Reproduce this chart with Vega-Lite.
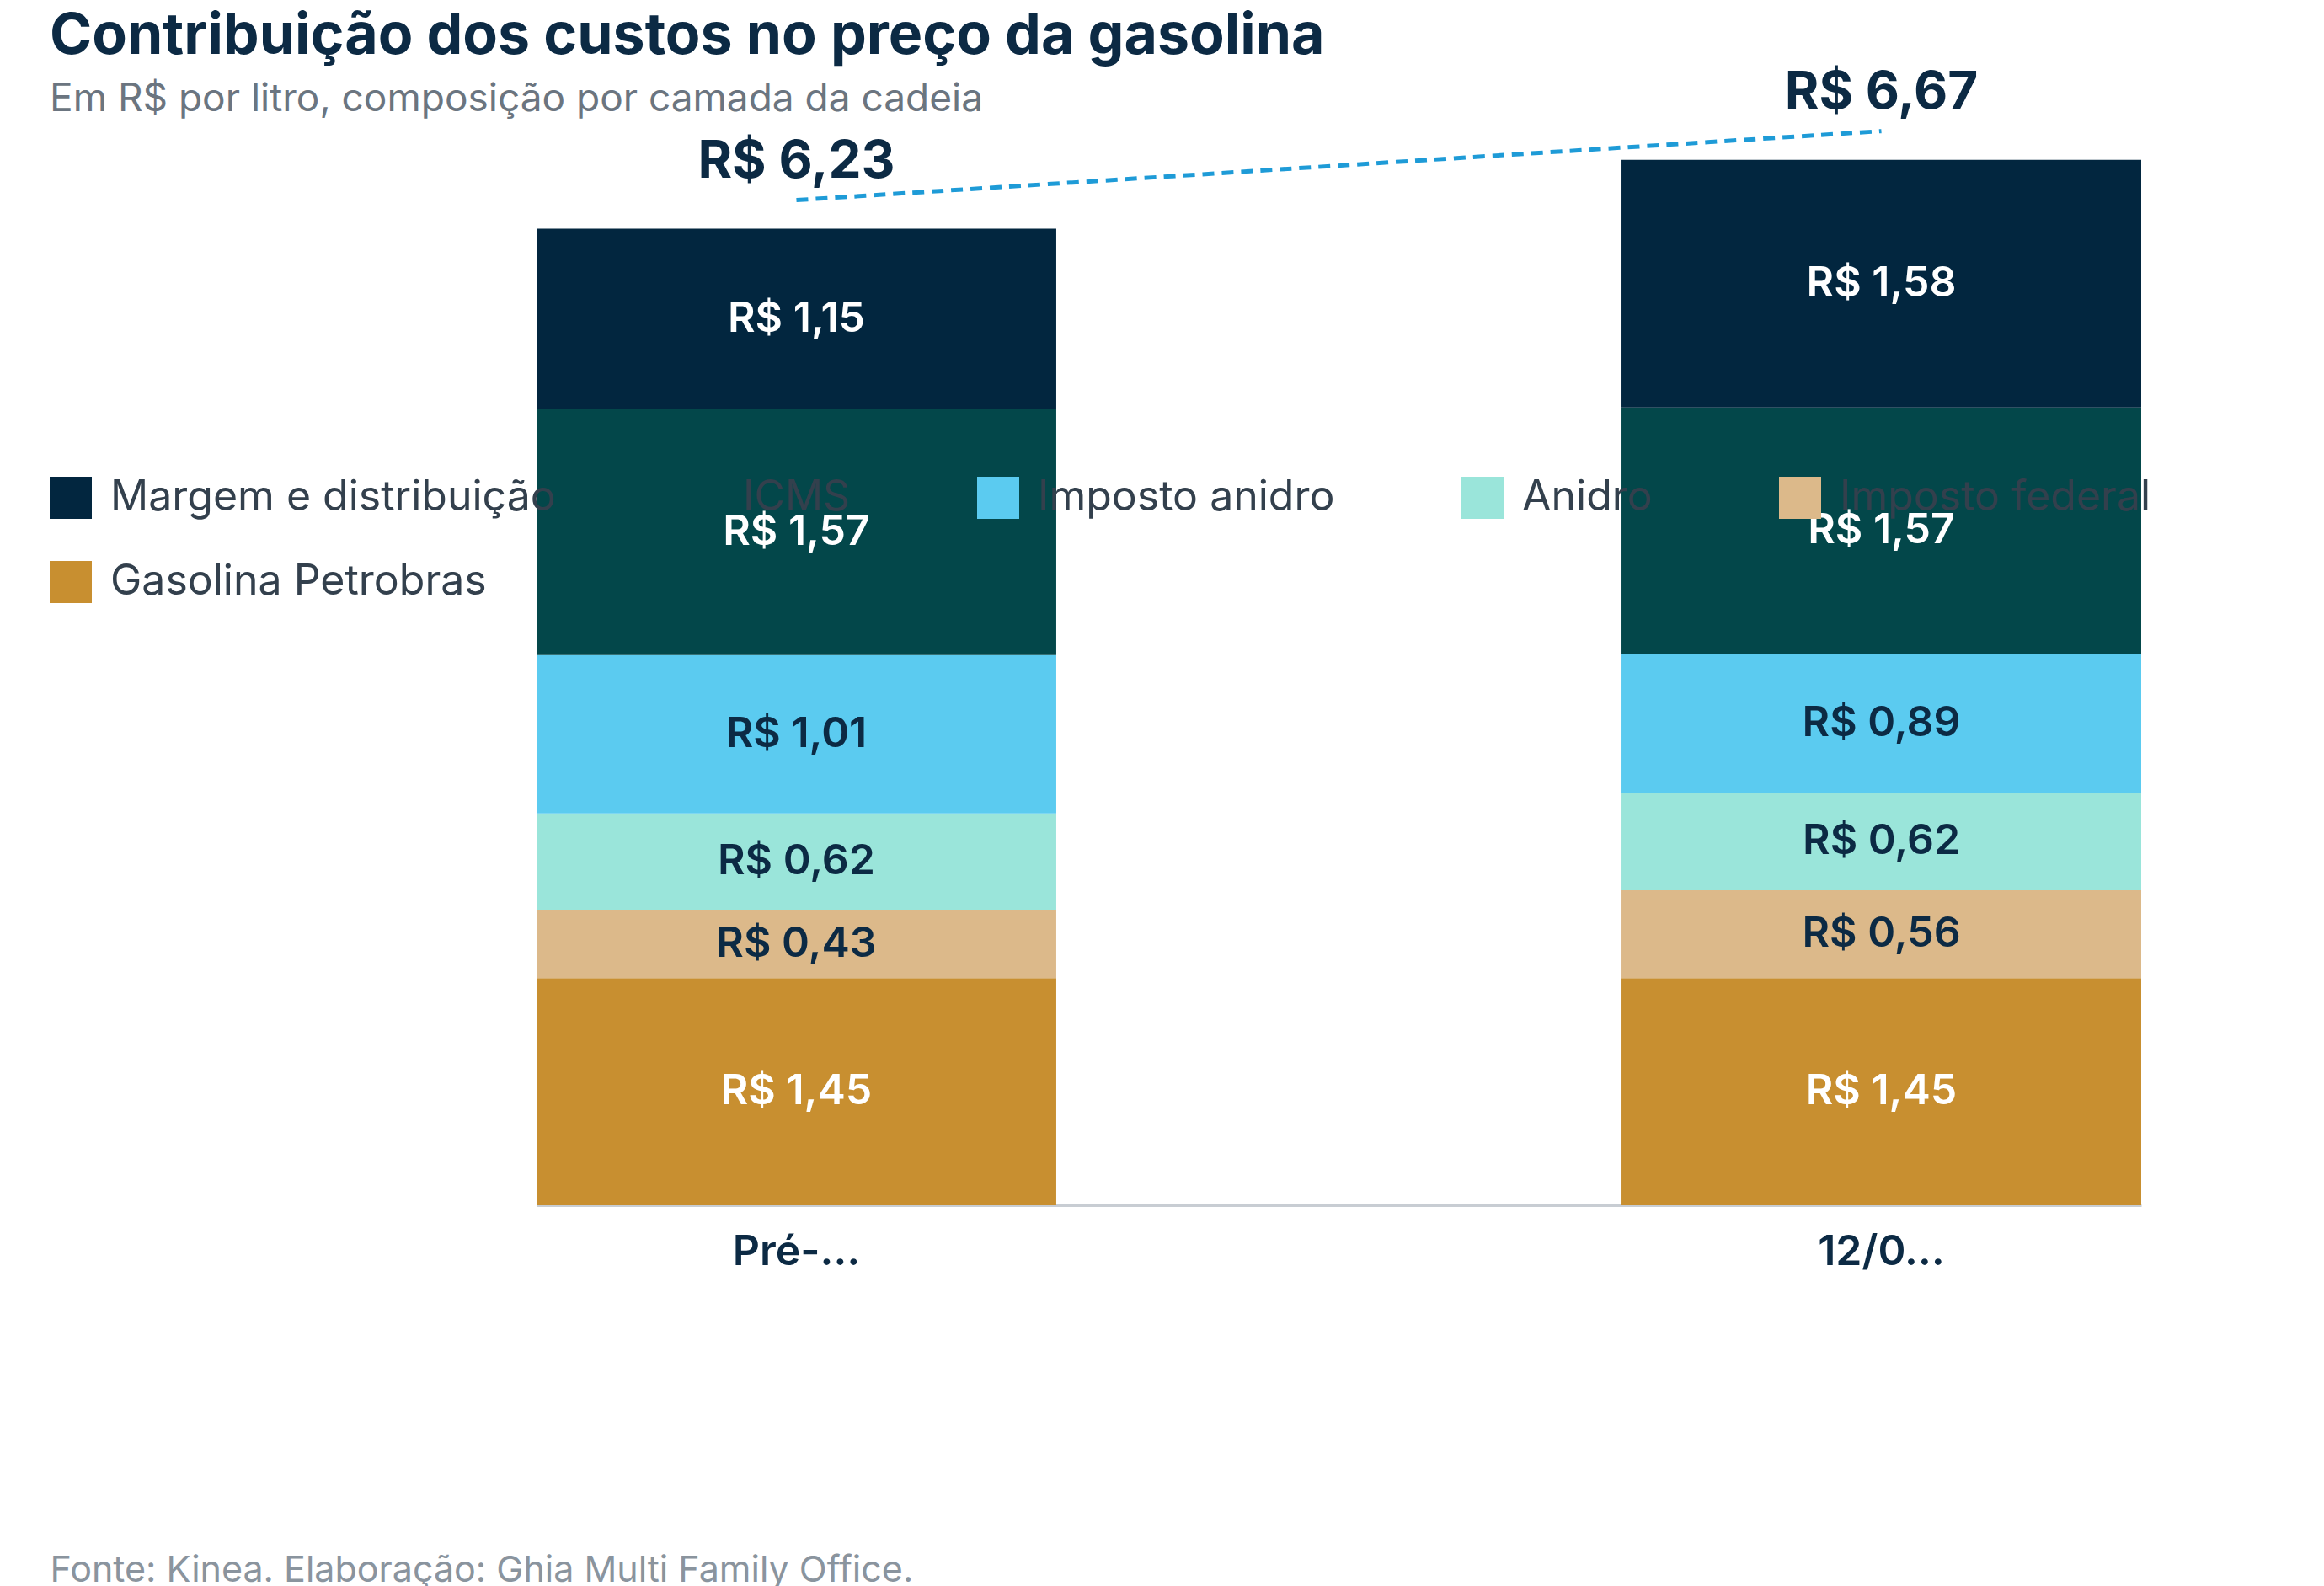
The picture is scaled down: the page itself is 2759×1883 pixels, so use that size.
{
  "$schema": "https://vega.github.io/schema/vega-lite/v6.json",
  "autosize": "none",
  "width": 1905,
  "height": 1340,
  "padding": {"left": 637, "top": 91, "right": 217, "bottom": 452},
  "background": "white",
  "config": {"font": "Inter", "view": {"stroke": null}},
  "title": {
    "text": "Contribuição dos custos no preço da gasolina",
    "subtitle": "Em R$ por litro, composição por camada da cadeia",
    "anchor": "start",
    "frame": "group",
    "dx": -578,
    "offset": -62,
    "fontSize": 68,
    "fontWeight": 700,
    "color": "#0C2A44",
    "subtitleFontSize": 46,
    "subtitleColor": "#6B7580",
    "subtitlePadding": 18
  },
  "datasets": {
    "custos": [
      {"periodo": "Pré-guerra", "componente": "Gasolina Petrobras", "valor": 1.45, "ordem": 1, "rotulo": "R$ 1,45"},
      {"periodo": "Pré-guerra", "componente": "Imposto federal", "valor": 0.43, "ordem": 2, "rotulo": "R$ 0,43"},
      {"periodo": "Pré-guerra", "componente": "Anidro", "valor": 0.62, "ordem": 3, "rotulo": "R$ 0,62"},
      {"periodo": "Pré-guerra", "componente": "Imposto anidro", "valor": 1.01, "ordem": 4, "rotulo": "R$ 1,01"},
      {"periodo": "Pré-guerra", "componente": "ICMS", "valor": 1.57, "ordem": 5, "rotulo": "R$ 1,57"},
      {"periodo": "Pré-guerra", "componente": "Margem e distribuição", "valor": 1.15, "ordem": 6, "rotulo": "R$ 1,15"},
      {"periodo": "12/04 – 18/04", "componente": "Gasolina Petrobras", "valor": 1.45, "ordem": 1, "rotulo": "R$ 1,45"},
      {"periodo": "12/04 – 18/04", "componente": "Imposto federal", "valor": 0.56, "ordem": 2, "rotulo": "R$ 0,56"},
      {"periodo": "12/04 – 18/04", "componente": "Anidro", "valor": 0.62, "ordem": 3, "rotulo": "R$ 0,62"},
      {"periodo": "12/04 – 18/04", "componente": "Imposto anidro", "valor": 0.89, "ordem": 4, "rotulo": "R$ 0,89"},
      {"periodo": "12/04 – 18/04", "componente": "ICMS", "valor": 1.57, "ordem": 5, "rotulo": "R$ 1,57"},
      {"periodo": "12/04 – 18/04", "componente": "Margem e distribuição", "valor": 1.58, "ordem": 6, "rotulo": "R$ 1,58"}
    ],
    "totais": [
      {"periodo": "Pré-guerra", "total": 6.23, "rotulo": "R$ 6,23"},
      {"periodo": "12/04 – 18/04", "total": 6.67, "rotulo": "R$ 6,67"}
    ]
  },
  "encoding": {
    "x": {
      "field": "periodo",
      "type": "nominal",
      "sort": ["Pré-guerra", "12/04 – 18/04"],
      "scale": {"paddingInner": 0.521, "paddingOuter": 0, "align": 0.335},
      "axis": {
        "title": "Fonte: Kinea. Elaboração: Ghia Multi Family Office.",
        "titleX": -578,
        "titleY": 433,
        "titleAnchor": "start",
        "titleAlign": "left",
        "titleBaseline": "middle",
        "titleFontSize": 43,
        "titleFontWeight": 400,
        "titleColor": "#8A949E",
        "labelAngle": 0,
        "labelFontSize": 50,
        "labelFontWeight": 600,
        "labelColor": "#0C2A44",
        "labelPadding": 30,
        "ticks": false,
        "domainColor": "#C8CDD3",
        "domainWidth": 3
      }
    }
  },
  "layer": [
    {
      "data": {"name": "custos"},
      "transform": [
        {"stack": "valor", "groupby": ["periodo"], "sort": [{"field": "ordem"}], "as": ["v0", "v1"]},
        {"calculate": "(datum.v0 + datum.v1) / 2", "as": "meio"}
      ],
      "layer": [
        {
          "mark": {"type": "bar"},
          "encoding": {
            "y": {"field": "v0", "type": "quantitative", "scale": {"domain": [0, 7.2]}, "axis": null},
            "y2": {"field": "v1"},
            "color": {
              "field": "componente",
              "type": "nominal",
              "scale": {
                "domain": ["Margem e distribuição", "ICMS", "Imposto anidro", "Anidro", "Imposto federal", "Gasolina Petrobras"],
                "range": ["#02263F", "#03474A", "#5BCBF0", "#9AE5DA", "#DCB98A", "#C88F30"]
              },
              "legend": {
                "title": null,
                "orient": "none",
                "legendX": -578,
                "legendY": 475,
                "direction": "horizontal",
                "columns": 5,
                "columnPadding": 150,
                "rowPadding": 50,
                "symbolType": "square",
                "symbolSize": 2500,
                "symbolStrokeWidth": 0,
                "symbolOpacity": 1,
                "labelFontSize": 50,
                "labelColor": "#33404D",
                "labelOffset": 22,
                "labelLimit": 800
              }
            }
          }
        },
        {
          "mark": {"type": "text", "fontSize": 50, "fontWeight": 600, "baseline": "middle"},
          "encoding": {
            "y": {"field": "meio", "type": "quantitative", "scale": {"domain": [0, 7.2]}},
            "text": {"field": "rotulo"},
            "color": {
              "condition": {"test": "indexof(['Margem e distribuição','ICMS','Gasolina Petrobras'], datum.componente) >= 0", "value": "white"},
              "value": "#0C2A44"
            }
          }
        }
      ]
    },
    {
      "data": {"name": "totais"},
      "layer": [
        {
          "mark": {"type": "line", "color": "#1E9BD7", "strokeWidth": 5, "strokeDash": [14, 9]},
          "encoding": {
            "y": {"field": "total", "type": "quantitative", "scale": {"domain": [0, 7.2]}},
            "yOffset": {"value": -34}
          }
        },
        {
          "mark": {"type": "text", "fontSize": 62, "fontWeight": 700, "color": "#0C2A44", "baseline": "middle", "dy": -80},
          "encoding": {
            "y": {"field": "total", "type": "quantitative", "scale": {"domain": [0, 7.2]}},
            "text": {"field": "rotulo"}
          }
        }
      ]
    }
  ]
}
